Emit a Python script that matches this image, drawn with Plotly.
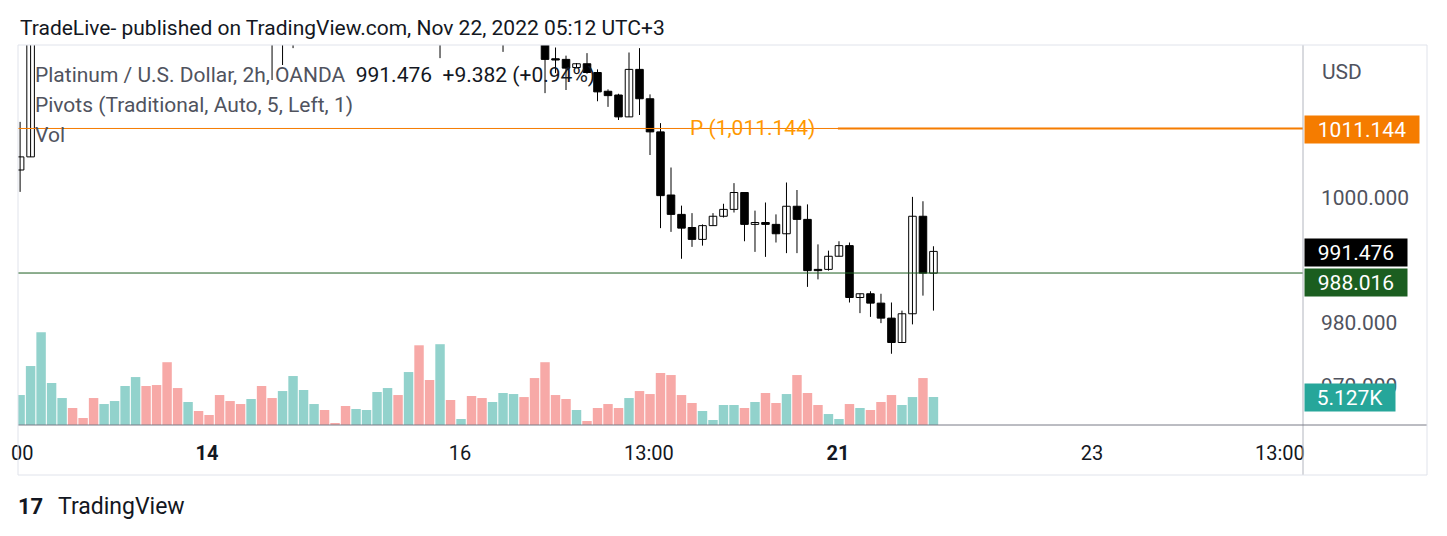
import plotly.graph_objects as go

opens = [1004.5,1006.6,1032,1038,1042,1044,1040,1039,1036,1039,1041,1045,1048,1044,1041,1035,1033,1036,1034,1032,1030,1029,1027,1030,1027,1025.5,1028,1031,1034,1036,1032,1031,1029,1032,1034,1037,1039,1035,1038,1031,1027,1032,1028,1030,1028,1027,1029,1030,1032,1028,
         1026.5,1022.3,1022.2,1020.9,1021.5,1020.1,1017.1,1016.5,1013.0,1020.6,1015.9,1010.6,1000.5,997.4,995.3,993.4,995.6,997.1,998.2,1000.9,995.8,996.1,995.8,994.3,998.7,996.6,988.6,988.6,990.7,992.4,984.1,984.7,983.2,980.8,976.9,981.5,997.1,988.0]
highs = [1012.2,1036,1040,1044,1046,1045,1042,1041,1040,1042,1046,1050,1049,1046,1043,1037,1037,1037,1035,1034,1032,1031,1031,1031,1029,1030,1032,1035,1038,1037,1033,1033,1033,1035,1038,1041,1040,1040,1039,1033,1034,1033,1031,1031,1029,1030,1032,1033,1033,1029,
         1027,1024.1,1022.8,1021.6,1023.2,1020.6,1017.4,1016.7,1023.3,1024.0,1016.6,1012.0,1004.9,998.8,997.6,995.8,997.6,999.1,1002.4,1000.9,998.0,999.3,997.4,1002.5,1001.3,999.0,992.6,991.6,993.1,992.9,984.7,985.1,984.7,983.3,982.0,1000.2,999.5,992.3]
lows = [1001.0,1006.6,1030,1035,1039,1038,1037,1034,1035,1037,1040,1043,1042,1040,1033,1031,1032,1033,1031,1029,1027,1026,1026,1026,1018.9,1021.3,1024,1029,1032,1031,1030,1028,1028,1031,1033,1036,1034,1034,1030,1026,1022.4,1027,1027,1027,1026,1026,1023.4,1029,1027,1025.5,
        1016.8,1020.0,1017.3,1020.8,1019.9,1015.5,1014.6,1012.5,1013.0,1013.3,1006.9,995.2,994.6,990.3,992.2,992.4,995.6,996.9,997.7,993.1,991.4,990.6,992.9,991.2,991.2,985.8,987.0,988.4,990.7,983.3,981.6,981.0,980.0,975.1,976.9,979.8,984.4,982.0]
closes = [1006.6,1032,1038,1042,1044,1040,1039,1036,1039,1041,1045,1048,1044,1041,1035,1033,1036,1034,1032,1030,1029,1027,1030,1027,1025.5,1028,1031,1034,1036,1032,1031,1029,1032,1034,1037,1039,1035,1038,1031,1027,1032,1028,1030,1028,1027,1029,1030,1032,1028,1026.5,
          1022.2,1022.1,1020.8,1021.5,1020.1,1017.0,1016.4,1013.0,1020.6,1015.9,1010.6,1000.4,997.4,995.2,993.4,995.6,997.1,998.2,1000.9,995.8,996.1,995.8,994.3,998.7,996.6,988.4,988.4,990.7,992.4,984.1,984.7,983.2,980.8,976.9,981.5,997.1,988.0,991.476]
volumes = [5.49,10.8,17.0,7.69,4.94,3.11,1.28,4.94,3.84,4.39,7.14,8.78,7.14,7.32,11.5,6.77,4.21,2.56,1.83,5.49,4.39,3.84,4.76,7.14,4.94,6.22,8.97,6.41,3.84,2.75,0.37,3.48,2.93,2.75,6.04,6.77,5.49,9.70,14.6,8.24,14.8,4.58,1.10,5.31,
           4.94,4.21,5.86,5.67,5.12,8.60,11.5,5.49,4.76,2.75,0.73,3.11,3.84,3.11,4.94,6.22,5.67,9.52,9.15,5.49,4.03,2.56,0.92,3.66,3.66,3.11,4.21,5.86,4.03,5.67,9.15,5.86,3.66,2.01,1.10,3.84,3.11,2.75,4.21,5.49,3.66,5.12,8.60,5.127]
tick_pos = [0.2, 17.8, 41.9, 59.9, 77.9, 102.1, 120]
tick_text = ["00", "<b>14</b>", "16", "13:00", "<b>21</b>", "23", "13:00"]
pivot = 1011.144
prev_close = 988.016
last_price = 991.476

xs = list(range(len(opens)))
up = [c >= o for o, c in zip(opens, closes)]
vcolors = ["#92d2cc" if u else "#f7a9a7" for u in up]
body_base = [min(o, c) for o, c in zip(opens, closes)]
body_h = [max(abs(c - o), 0.12) for o, c in zip(opens, closes)]
body_col = ["white" if u else "black" for u in up]

wx, wy = [], []
for i in xs:
    wx += [i, i, None]
    wy += [lows[i], highs[i], None]

fig = go.Figure()
fig.add_trace(go.Bar(x=xs, y=volumes, marker_color=vcolors, marker_line_width=0, width=0.9, yaxis="y2", hoverinfo="skip"))
fig.add_trace(go.Scatter(x=wx, y=wy, mode="lines", line=dict(color="black", width=1), hoverinfo="skip"))
fig.add_trace(go.Bar(x=xs, y=body_h, base=body_base, width=0.72, marker=dict(color=body_col, line=dict(color="black", width=1))))

def py(p):
    return (425 - p) / 380
def px(p):
    return (p - 18) / 1285

fig.add_hline(y=pivot, line=dict(color="#f57c00", width=1))
fig.add_hline(y=prev_close, line=dict(color="#1b5e20", width=1))
fig.add_shape(type="line", xref="x", yref="y", x0=77.9, x1=122.2, y0=pivot, y1=pivot, line=dict(color="#f57c00", width=2))
fig.add_shape(type="line", xref="paper", yref="paper", x0=1, x1=1, y0=py(475), y1=1, line=dict(color="#b2b5be", width=1))
fig.add_shape(type="line", xref="paper", yref="paper", x0=0, x1=px(1427), y0=0, y1=0, line=dict(color="#787b86", width=1))
fig.add_shape(type="rect", xref="paper", yref="paper", x0=0, x1=px(1427), y0=py(475), y1=1, line=dict(color="#e0e3eb", width=1))

fs = 21
ann = [
    dict(x=0, y=py(28), xref="paper", yref="paper", xanchor="left", text="TradeLive- published on TradingView.com, Nov 22, 2022 05:12 UTC+3", font=dict(size=21, color="#131722")),
    dict(x=px(33), y=py(75), xref="paper", yref="paper", xanchor="left", text="<span style='color:#50535e'>Platinum / U.S. Dollar, 2h, OANDA</span>  991.476  +9.382 (+0.94%)", font=dict(size=fs, color="#131722")),
    dict(x=px(33), y=py(105), xref="paper", yref="paper", xanchor="left", text="Pivots (Traditional, Auto, 5, Left, 1)", font=dict(size=fs, color="#50535e")),
    dict(x=px(33), y=py(135), xref="paper", yref="paper", xanchor="left", text="Vol", font=dict(size=fs, color="#50535e")),
    dict(x=69.8, y=pivot, xref="x", yref="y", text="P (1,011.144)", font=dict(size=fs, color="#ff9800")),
    dict(x=px(1320), y=py(72), xref="paper", yref="paper", xanchor="left", text="USD", font=dict(size=fs, color="#50535e")),
    dict(x=px(1304), y=py(129), xref="paper", yref="paper", xanchor="left", text="1011.144", width=112, height=25, bgcolor="#f57c00", font=dict(size=fs, color="white")),
    dict(x=px(1304), y=py(253), xref="paper", yref="paper", xanchor="left", text="991.476", width=100, height=25, bgcolor="#000000", font=dict(size=fs, color="white")),
    dict(x=px(1304), y=py(282), xref="paper", yref="paper", xanchor="left", text="988.016", width=100, height=25, bgcolor="#1b5e20", font=dict(size=fs, color="white")),
    dict(x=px(1304), y=py(397), xref="paper", yref="paper", xanchor="left", text="5.127K", width=88, height=25, bgcolor="#26a69a", font=dict(size=fs, color="white")),
    dict(x=px(16), y=py(506), xref="paper", yref="paper", xanchor="left", text="<b>17</b>", font=dict(size=22, color="#131722")),
    dict(x=px(56), y=py(506), xref="paper", yref="paper", xanchor="left", text="TradingView", font=dict(size=23, color="#131722")),
]
for a in ann:
    a.setdefault("showarrow", False)
    a.setdefault("yanchor", "middle")

fig.update_layout(
    width=1447, height=536, margin=dict(l=10, r=152, t=37, b=119, autoexpand=False),
    paper_bgcolor="white", plot_bgcolor="white", showlegend=False, barmode="overlay",
    font=dict(family="Roboto", color="#131722"),
    annotations=ann,
    xaxis=dict(range=[-0.2, 122.2], showgrid=False, zeroline=False, automargin=False,
               tickvals=tick_pos, ticktext=tick_text, tickfont=dict(size=20), ticks="", ticklabelstandoff=14),
    yaxis=dict(range=[963.7, 1024.5], side="right", showgrid=False, zeroline=False, automargin=False,
               tickvals=[970, 980, 1000], ticktext=["970.000", "980.000", "1000.000"], tickfont=dict(size=21, color="#50535e"), ticks="", ticklabelstandoff=17),
    yaxis2=dict(range=[0, 69.6], overlaying="y", showticklabels=False, showgrid=False, zeroline=False),
)
fig.write_html("out.html")
